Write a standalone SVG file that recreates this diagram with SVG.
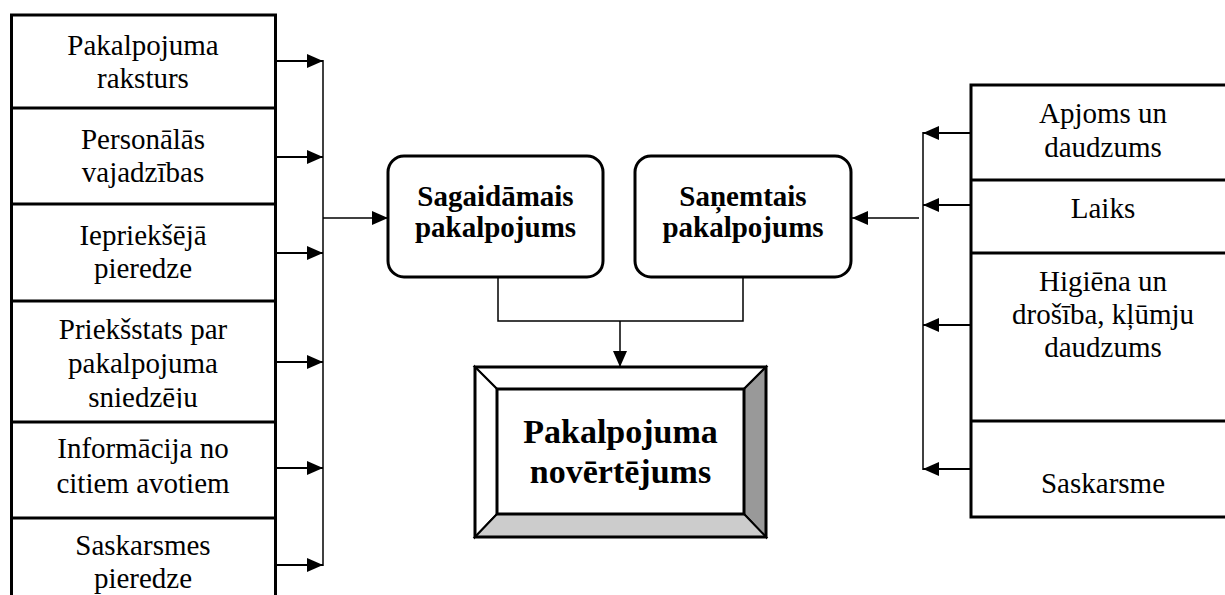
<svg xmlns="http://www.w3.org/2000/svg" width="1225" height="595" viewBox="0 0 1225 595">
  <style>
    .lbl { font-family: "Liberation Serif", "Times New Roman", serif; font-size: 29px; fill: #000; text-anchor: middle; }
    .bold { font-weight: bold; }
    .big { font-size: 34px; }
    .frame { fill: #fff; stroke: #000; stroke-width: 3; }
    .div { stroke: #000; stroke-width: 3; fill: none; }
    .arr { stroke: #000; stroke-width: 2; fill: none; marker-end: url(#head); }
    .thin { stroke: #000; stroke-width: 1.5; fill: none; }
    .bev { stroke: #000; stroke-width: 2; }
  </style>
  <defs>
    <marker id="head" markerUnits="userSpaceOnUse" markerWidth="16" markerHeight="14" refX="16" refY="7" orient="auto">
      <path d="M0,0 L16,7 L0,14 z" fill="#000"/>
    </marker>
    <clipPath id="clip-provider">
      <rect x="14" y="304" width="258" height="104"/>
    </clipPath>
  </defs>

  <rect width="1225" height="595" fill="#fff"/>

  <!-- left column: expectation factors -->
  <g id="left-column">
    <rect class="frame" x="11.5" y="15" width="264" height="600"/>
    <line class="div" x1="11.5" y1="108" x2="275.5" y2="108"/>
    <line class="div" x1="11.5" y1="204" x2="275.5" y2="204"/>
    <line class="div" x1="11.5" y1="301" x2="275.5" y2="301"/>
    <line class="div" x1="11.5" y1="422" x2="275.5" y2="422"/>
    <line class="div" x1="11.5" y1="518" x2="275.5" y2="518"/>
  </g>
  <g id="factor-nature">
    <text class="lbl" x="143" y="55">Pakalpojuma</text>
    <text class="lbl" x="143" y="87.5">raksturs</text>
  </g>
  <g id="factor-needs">
    <text class="lbl" x="143" y="149">Personālās</text>
    <text class="lbl" x="143" y="182">vajadzības</text>
  </g>
  <g id="factor-experience">
    <text class="lbl" x="143" y="245">Iepriekšējā</text>
    <text class="lbl" x="143" y="278">pieredze</text>
  </g>
  <g id="factor-provider">
    <text class="lbl" x="143" y="339">Priekšstats par</text>
    <text class="lbl" x="143" y="373">pakalpojuma</text>
    <text class="lbl" x="143" y="407" clip-path="url(#clip-provider)">sniedzēju</text>
  </g>
  <g id="factor-sources">
    <text class="lbl" x="143" y="458">Informācija no</text>
    <text class="lbl" x="143" y="493">citiem avotiem</text>
  </g>
  <g id="factor-contact">
    <text class="lbl" x="143" y="555">Saskarsmes</text>
    <text class="lbl" x="143" y="588">pieredze</text>
  </g>

  <!-- right column: received service factors -->
  <g id="right-column">
    <rect class="frame" x="971" y="85" width="270" height="432"/>
    <line class="div" x1="971" y1="180" x2="1241" y2="180"/>
    <line class="div" x1="971" y1="253" x2="1241" y2="253"/>
    <line class="div" x1="971" y1="421" x2="1241" y2="421"/>
  </g>
  <g id="factor-volume">
    <text class="lbl" x="1103" y="123">Apjoms un</text>
    <text class="lbl" x="1103" y="157">daudzums</text>
  </g>
  <g id="factor-time">
    <text class="lbl" x="1103" y="218">Laiks</text>
  </g>
  <g id="factor-hygiene">
    <text class="lbl" x="1103" y="291">Higiēna un</text>
    <text class="lbl" x="1103" y="324">drošība, kļūmju</text>
    <text class="lbl" x="1103" y="357">daudzums</text>
  </g>
  <g id="factor-communication">
    <text class="lbl" x="1103" y="493">Saskarsme</text>
  </g>

  <!-- central nodes -->
  <g id="expected-service">
    <rect class="frame" x="388" y="156" width="215" height="121" rx="16"/>
    <text class="lbl bold" x="495.5" y="206">Sagaidāmais</text>
    <text class="lbl bold" x="495.5" y="237">pakalpojums</text>
  </g>
  <g id="received-service">
    <rect class="frame" x="635" y="156" width="216" height="121" rx="16"/>
    <text class="lbl bold" x="743" y="206">Saņemtais</text>
    <text class="lbl bold" x="743" y="237">pakalpojums</text>
  </g>
  <g id="service-evaluation">
    <polygon points="475,367 766,367 744,389 497,389" fill="#fff" class="bev"/>
    <polygon points="475,367 497,389 497,514 475,537" fill="#fff" class="bev"/>
    <polygon points="766,367 766,537 744,514 744,389" fill="#999" class="bev"/>
    <polygon points="475,537 766,537 744,514 497,514" fill="#ccc" class="bev"/>
    <rect x="475" y="367" width="291" height="170" fill="none" stroke="#000" stroke-width="3"/>
    <rect x="497" y="389" width="247" height="125" fill="#fff" stroke="#000" stroke-width="3"/>
    <text class="lbl bold big" x="620.5" y="443">Pakalpojuma</text>
    <text class="lbl bold big" x="620.5" y="483">novērtējums</text>
  </g>

  <!-- connectors -->
  <g id="connectors">
    <line class="arr" x1="277" y1="61" x2="323" y2="61"/>
    <line class="arr" x1="277" y1="157" x2="323" y2="157"/>
    <line class="arr" x1="277" y1="253" x2="323" y2="253"/>
    <line class="arr" x1="277" y1="362" x2="323" y2="362"/>
    <line class="arr" x1="277" y1="468" x2="323" y2="468"/>
    <line class="arr" x1="277" y1="565" x2="323" y2="565"/>
    <line class="thin" x1="323" y1="60" x2="323" y2="566"/>
    <line class="arr" x1="323" y1="218" x2="388" y2="218" style="stroke-width:1.5"/>

    <line class="arr" x1="970" y1="133" x2="923" y2="133"/>
    <line class="arr" x1="970" y1="205" x2="923" y2="205"/>
    <line class="arr" x1="970" y1="325" x2="923" y2="325"/>
    <line class="arr" x1="970" y1="469" x2="923" y2="469"/>
    <line class="thin" x1="923" y1="132" x2="923" y2="470"/>
    <line class="arr" x1="919" y1="218" x2="852" y2="218" style="stroke-width:1.5"/>

    <polyline class="thin" points="498,277 498,321 743,321 743,277"/>
    <line class="arr" x1="620" y1="321" x2="620" y2="367" style="stroke-width:1.5"/>
  </g>
</svg>
